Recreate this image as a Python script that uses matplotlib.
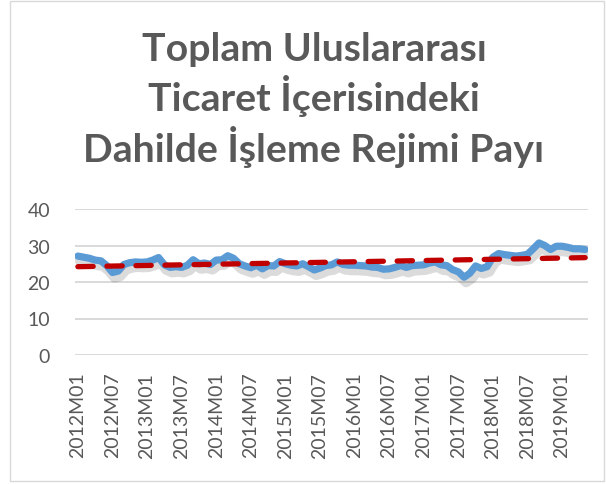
import numpy as np
import matplotlib
matplotlib.use("Agg")
import matplotlib.pyplot as plt
from matplotlib import patheffects as pe
from matplotlib.patches import Rectangle

# ---- data ----
years = list(range(2012, 2020))
periods = [f"{y}M{m:02d}" for y in years for m in range(1, 13)][:89]  # 2012M01 .. 2019M05
share = [27.1, 26.8, 26.5, 26.0, 25.8, 24.5, 22.6, 23.0, 24.8, 25.3, 25.5, 25.4,
         25.5, 26.0, 26.7, 24.7, 24.0, 24.2, 24.0, 24.6, 26.1, 25.0, 25.2, 24.8,
         26.0, 26.1, 27.2, 26.5, 25.0, 24.4, 23.9, 24.6, 23.6, 24.5, 24.4, 25.6,
         25.0, 24.6, 24.4, 25.0, 24.2, 23.3, 23.8, 24.5, 24.7, 25.5, 24.8, 24.6,
         24.6, 24.5, 24.4, 24.1, 24.0, 23.5, 23.6, 24.0, 24.5, 24.0, 24.5, 24.6,
         24.7, 25.2, 25.5, 24.7, 24.5, 23.4, 22.8, 21.3, 22.4, 24.4, 23.7, 24.2,
         26.8, 27.8, 27.5, 27.3, 27.1, 27.3, 27.6, 29.1, 30.7, 30.0, 28.9, 29.8,
         29.8, 29.5, 29.1, 29.1, 28.9]
title = "Toplam Uluslararası\nTicaret İçerisindeki\nDahilde İşleme Rejimi Payı"
yticks = [0, 10, 20, 30, 40]

W, H = 606, 485
fig = plt.figure(figsize=(W / 100, H / 100), dpi=100)
fig.patch.set_facecolor("white")

# chart border
fig.add_artist(Rectangle((10 / W, 1 - 482 / H), 594 / W, 480 / H, transform=fig.transFigure,
                         fill=False, edgecolor="#D9D9D9", linewidth=1.0))

left, right, top, bottom = 75, 588, 210, 356
ax = fig.add_axes([left / W, 1 - bottom / H, (right - left) / W, (bottom - top) / H])

x = np.arange(len(share))
ax.plot(x, share, color="#5B9BD5", linewidth=5.2, solid_joinstyle="round", solid_capstyle="round",
        path_effects=[pe.SimpleLineShadow(offset=(1.5, -3.5), shadow_color="black", alpha=0.14,
                                          linewidth=7.5), pe.Normal()], zorder=3)

coef = np.polyfit(x, share, 1)
trend = np.polyval(coef, x)
ax.plot(x, trend, color="#C00000", linewidth=3.8, linestyle=(0, (2.9, 2.6)),
        dash_capstyle="round", zorder=4)

ax.set_xlim(-0.5, len(share) - 0.5)
ax.set_ylim(0, 40)
ax.set_yticks(yticks)
ax.set_yticklabels([str(v) for v in yticks])
ax.yaxis.grid(True, color="#D9D9D9", linewidth=1.4)
ax.set_axisbelow(True)
for s in ax.spines.values():
    s.set_visible(False)

tick_idx = list(range(0, len(share), 6))
ax.set_xticks(tick_idx)
ax.set_xticklabels([periods[i] for i in tick_idx], rotation=90, fontsize=14,
                   color="#595959", family="Lato")
ax.tick_params(axis="x", length=0, pad=12)
ax.tick_params(axis="y", length=0, pad=18, labelsize=14, labelcolor="#595959")
for lab in ax.get_yticklabels():
    lab.set_family("Lato")

fig.text(314 / W, 1 - 100 / H, title, ha="center", va="center", fontsize=28.3,
         fontweight="bold", color="#595959", family="Lato", linespacing=1.24)

fig.savefig("out.png", dpi=100)
